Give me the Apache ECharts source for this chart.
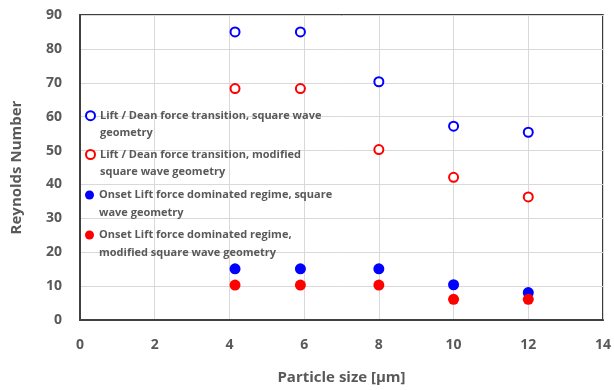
<!DOCTYPE html>
<html>
<head>
<meta charset="utf-8">
<script src="https://cdn.jsdelivr.net/npm/echarts@6/dist/echarts.min.js"></script>
<style>
  html, body { margin: 0; padding: 0; background: #fff; }
  #chart { width: 614px; height: 390px; }
</style>
</head>
<body>
<div id="chart"></div>
<script>
// Particle sizes (µm) where each condition was measured
const particleSize = [4.15, 5.9, 8, 10, 12];

// Reynolds numbers for each regime / geometry
const transitionSquare = [85, 85, 70.3, 57.2, 55.4];
const transitionModified = [68.3, 68.3, 50.3, 42.1, 36.3];
const onsetSquare = [15.1, 15.1, 15.1, 10.4, 8.1];
const onsetModified = [10.3, 10.3, 10.3, 6.1, 6.1];

const seriesNames = [
  'Lift / Dean force transition, square wave geometry',
  'Lift / Dean force transition, modified square wave geometry',
  'Onset Lift force dominated regime, square wave geometry',
  'Onset Lift force dominated regime, modified square wave geometry'
];
// Legend text split over two lines
const legendLabels = [
  ['Lift / Dean force transition, square wave', 'geometry'],
  ['Lift / Dean force transition, modified', 'square wave geometry'],
  ['Onset Lift force dominated regime, square', 'wave geometry'],
  ['Onset Lift force dominated regime,', 'modified square wave geometry']
];

const xTicks = { min: 0, max: 14, interval: 2 };
const yTicks = { min: 0, max: 90, interval: 10 };

const pair = (ys) => particleSize.map((x, i) => [x, ys[i]]);

const BLUE = '#0000ff';
const RED = '#ff0000';
const TEXT = '#595959';
const FONT = '"Open Sans", Lato, sans-serif';
const LH = 17.6;

// Each legend entry is its own box; a leading blank line keeps the
// marker level with the first text line.
const iconCenters = [115.7, 154.5, 195, 235];
const legends = seriesNames.map((name, i) => ({
  data: [name],
  left: 85,
  top: iconCenters[i] - 1.5 * LH,
  orient: 'vertical',
  itemWidth: 9,
  itemHeight: 9,
  padding: 0,
  selectedMode: false,
  formatter: () => '\n' + legendLabels[i].join('\n'),
  textStyle: {
    color: TEXT,
    fontFamily: FONT,
    fontWeight: 'bold',
    fontSize: 11,
    lineHeight: LH
  }
}));

const chart = echarts.init(document.getElementById('chart'), null, { renderer: 'canvas' });
chart.setOption({
  animation: false,
  backgroundColor: '#fff',
  grid: {
    left: 80, right: 10, top: 15, bottom: 67,
    show: true,
    borderColor: '#000',
    borderWidth: 1.5
  },
  legend: legends,
  xAxis: {
    type: 'value',
    min: xTicks.min, max: xTicks.max, interval: xTicks.interval,
    name: 'Particle size [µm]',
    nameLocation: 'middle',
    nameGap: 50,
    nameTextStyle: { color: TEXT, fontFamily: FONT, fontWeight: 'bold', fontSize: 15 },
    axisLine: { show: true, onZero: false, lineStyle: { color: '#404040', width: 2 } },
    axisTick: { show: false },
    axisLabel: { color: TEXT, fontFamily: FONT, fontWeight: 'bold', fontSize: 14, margin: 18 },
    splitLine: { show: true, lineStyle: { color: '#d9d9d9', width: 1 } }
  },
  yAxis: {
    type: 'value',
    min: yTicks.min, max: yTicks.max, interval: yTicks.interval,
    name: 'Reynolds Number',
    nameLocation: 'middle',
    nameGap: 56,
    nameTextStyle: { color: TEXT, fontFamily: FONT, fontWeight: 'bold', fontSize: 15 },
    axisLine: { show: true, onZero: false, lineStyle: { color: '#404040', width: 2 } },
    axisTick: { show: false },
    axisLabel: { color: TEXT, fontFamily: FONT, fontWeight: 'bold', fontSize: 14, margin: 18 },
    splitLine: { show: true, lineStyle: { color: '#d9d9d9', width: 1 } }
  },
  series: [
    {
      name: seriesNames[0], type: 'scatter', data: pair(transitionSquare),
      symbol: 'emptyCircle', symbolSize: 9,
      itemStyle: { color: BLUE, borderColor: BLUE, borderWidth: 2, opacity: 1 }
    },
    {
      name: seriesNames[1], type: 'scatter', data: pair(transitionModified),
      symbol: 'emptyCircle', symbolSize: 9,
      itemStyle: { color: RED, borderColor: RED, borderWidth: 2, opacity: 1 }
    },
    {
      name: seriesNames[2], type: 'scatter', data: pair(onsetSquare),
      symbol: 'circle', symbolSize: 11,
      itemStyle: { color: BLUE, opacity: 1 }
    },
    {
      name: seriesNames[3], type: 'scatter', data: pair(onsetModified),
      symbol: 'circle', symbolSize: 11,
      itemStyle: { color: RED, opacity: 1 }
    }
  ]
});
</script>
</body>
</html>
